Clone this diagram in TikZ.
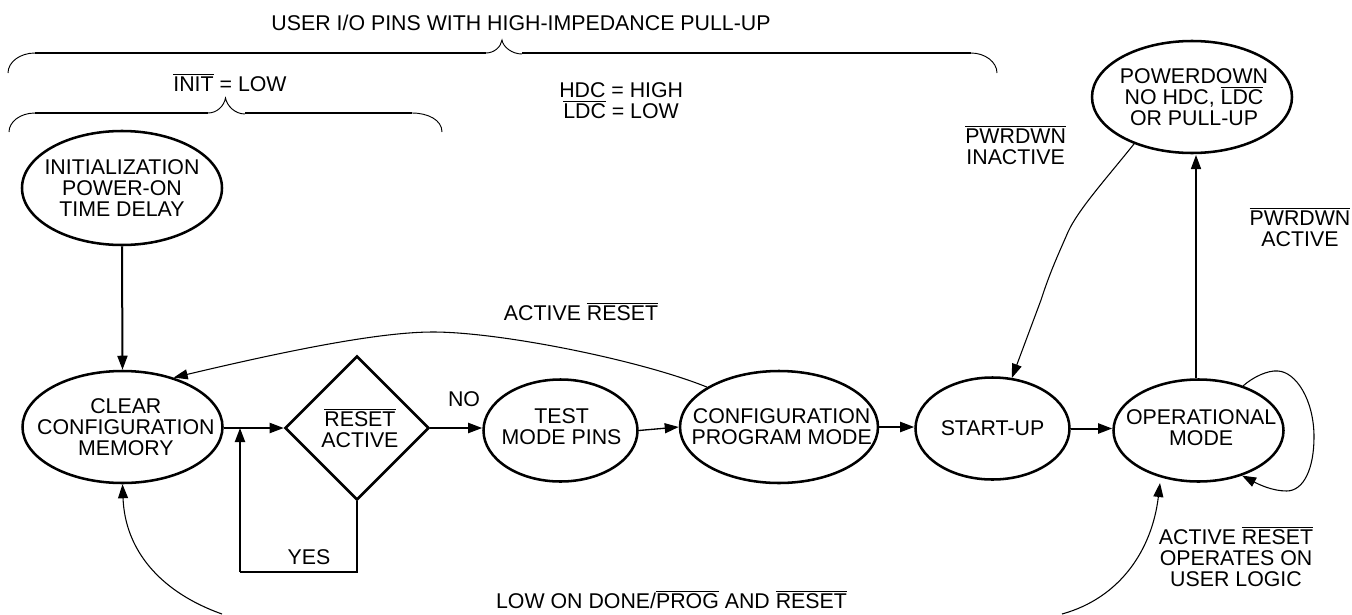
\documentclass[tikz,border=0pt]{standalone}
\usepackage{fontspec}
\setmainfont{Liberation Sans}
\usetikzlibrary{arrows.meta,shapes.geometric}
\newcommand{\ovl}[1]{\leavevmode\vbox{\hrule height 0.8pt\kern 1.1pt\hbox{#1}}}
\tikzset{
  oval/.style 2 args={draw,ellipse,line width=1.9pt,inner sep=0pt,minimum width=#1*1.5pt,minimum height=#2*1.5pt},
  txt/.style={font=\fontsize{16pt}{15.75pt}\selectfont,align=center,inner sep=0pt},
  flow/.style={line width=1.5pt,-{Triangle[length=10.5pt,width=7.5pt]}},
  thin flow/.style={line width=0.8pt,-{Triangle[length=10.5pt,width=7.5pt]}},
  brace bar/.style={line width=1.6pt},
  brace curve/.style={line width=0.7pt},
  every label/.style={txt},
}
\begin{document}
\begin{tikzpicture}[x=0.75pt,y=-0.75pt]
\useasboundingbox (0,0) rectangle (1352,614);
% states
\node[oval={100}{57},label={center:INITIALIZATION\\POWER-ON\\TIME DELAY}] (init) at (122,188) {};
\node[oval={100}{56},label={[xshift=2.5pt]center:CLEAR\\CONFIGURATION\\MEMORY}] (clear) at (122.5,427) {};
\node[draw,diamond,aspect=1,line width=1.9pt,inner sep=0pt,minimum width=108pt,minimum height=108pt,label={[xshift=2.2pt,yshift=-0.5pt]center:\ovl{RESET}\\ACTIVE}] (reset) at (357,428) {};
\node[oval={77}{51},label={[xshift=0.8pt,yshift=3pt]center:TEST\\MODE PINS}] (test) at (560.5,430.5) {};
\node[oval={99}{56},label={[xshift=2pt,yshift=0.3pt]center:CONFIGURATION\\PROGRAM MODE}] (config) at (779,427) {};
\node[oval={77}{51},label={center:START-UP}] (start) at (992.5,428.5) {};
\node[oval={85}{51},label={[xshift=2pt,yshift=2.5pt]center:OPERATIONAL\\MODE}] (oper) at (1198.5,430.5) {};
\node[oval={100}{56},label={[xshift=1.5pt]center:POWERDOWN\\NO HDC, \ovl{LDC}\\OR PULL-UP}] (power) at (1192,97) {};
% free ends
\coordinate (loopcorner) at (240,572);
\coordinate (looptarget) at (240,428);
\coordinate (powertip) at (1196,155);
\coordinate (lowleft) at (222,614);
\coordinate (lowright) at (1062,614);
\coordinate (opertip) at (1160,483);
% connectors
\draw[flow] (init.south) -- (clear.north);
\draw[flow] (clear.east |- reset.west) -- (reset.west);
\draw[flow] (reset.east) -- (test.west |- reset.east);
\draw[flow,line width=1pt] (test.east) -- (config.west);
\draw[flow] (config.east) -- (start.west |- config.east);
\draw[flow] (start.east) -- (oper.west |- start.east);
\draw[line width=1.5pt] (reset.south) -- (reset.south |- loopcorner) -- (loopcorner);
\draw[flow] (loopcorner) -- (looptarget);
\draw[flow,line width=1.1pt] (oper.north -| powertip) -- (powertip);
\draw[thin flow] (power.219) .. controls (1105,180) and (1078,210) .. (1068,232) .. controls (1058,255) and (1050,272) .. (1041,300) -- (start.69);
\draw[thin flow] (config.151) .. controls (640,360) and (500,332) .. (433,332) .. controls (380,332) and (290,350) .. (clear.44);
\draw[thin flow] (oper.45) .. controls (1253,377) and (1268,370) .. (1278,371) .. controls (1296,372) and (1314,400) .. (1314,437) .. controls (1314,468) and (1304,491) .. (1286.5,491) .. controls (1272,491) and (1258,484) .. (oper.-46);
\draw[thin flow] (lowleft) .. controls (160,592) and (125,550) .. (clear.south);
\draw[thin flow] (lowright) .. controls (1120,598) and (1152,550) .. (opertip);
% labels
\node[txt] (t1) at (521,23) {USER I/O PINS WITH HIGH-IMPEDANCE PULL-UP};
\node[txt] (t2) at (230,83) {\ovl{INIT} = LOW};
\node[txt,align=left,anchor=west] (t3) at (559,100.5) {HDC = HIGH\\\hspace*{3pt}\ovl{LDC} = LOW};
\node[txt] (t4) at (1015.6,145) {\ovl{PWRDWN}\\INACTIVE};
\node[txt] (t5) at (1300,227) {\ovl{PWRDWN}\\ACTIVE};
\node[txt] (t6) at (581,312) {ACTIVE \ovl{RESET}};
\node[txt] (t7) at (464,399) {NO};
\node[txt] (t8) at (309,557) {YES};
\node[txt] (t9) at (1236,557) {ACTIVE \ovl{RESET}\\OPERATES ON\\USER LOGIC};
\node[txt] (t10) at (671.5,600) {LOW ON DONE/\ovl{PROG} AND \ovl{RESET}};
% braces
\draw[brace curve] (8,73) .. controls (8,62) and (20,53) .. (35,53);
\draw[brace bar] (35,53) -- (486,53);
\draw[brace curve] (486,53) .. controls (494,53) and (501,47) .. (502,40) .. controls (503,47) and (512,54) .. (522,54);
\draw[brace bar] (522,53) -- (971,53);
\draw[brace curve] (971,53) .. controls (985,53) and (997,62) .. (997,73);
\draw[brace curve] (9,132) .. controls (9,122) and (20,113) .. (35,113);
\draw[brace bar] (35,113) -- (208,113);
\draw[brace curve] (208,113) .. controls (217,113) and (224,106) .. (225.5,98) .. controls (227,106) and (235,114) .. (245,114);
\draw[brace bar] (245,113) -- (412,113);
\draw[brace curve] (412,113) .. controls (428,113) and (442,120) .. (442,132);
\end{tikzpicture}
\end{document}
